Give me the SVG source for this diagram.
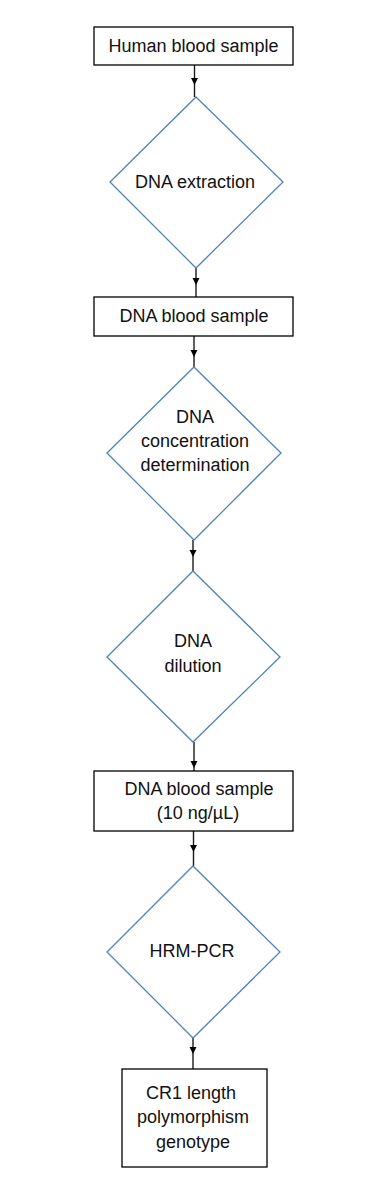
<svg xmlns="http://www.w3.org/2000/svg" width="383" height="1200" viewBox="0 0 383 1200">
<style>
.box{fill:#fff;stroke:#000;stroke-width:1.3}
.dia{fill:#fff;stroke:#4f81bd;stroke-width:1.3}
.t{font-family:"Liberation Sans",Arial,sans-serif;font-size:18px;fill:#111;text-anchor:middle}
.ln{stroke:#1a1a1a;stroke-width:1.4;fill:none}
.ah{fill:#000}
</style>
<rect width="383" height="1200" fill="#fff"/>
<g id="connectors">
<line class="ln" x1="194.5" y1="65" x2="194.5" y2="97"/><polygon class="ah" points="191,78 198,78 194.5,85"/>
<line class="ln" x1="196" y1="268" x2="196" y2="297"/><polygon class="ah" points="192.5,278 199.5,278 196,285"/>
<line class="ln" x1="194" y1="336" x2="194" y2="367"/><polygon class="ah" points="190.5,350 197.5,350 194,357"/>
<line class="ln" x1="193" y1="540" x2="193" y2="571"/><polygon class="ah" points="189.5,550 196.5,550 193,557"/>
<line class="ln" x1="194" y1="742" x2="194" y2="771"/><polygon class="ah" points="190.5,761 197.5,761 194,768"/>
<line class="ln" x1="193.5" y1="831" x2="193.5" y2="866"/><polygon class="ah" points="190,845 197,845 193.5,852"/>
<line class="ln" x1="193" y1="1038" x2="193" y2="1069"/><polygon class="ah" points="189.5,1047 196.5,1047 193,1054"/>
</g>
<g id="n1"><rect class="box" x="94" y="27" width="199" height="38"/><text class="t" x="193.5" y="52">Human blood sample</text></g>
<g id="n2"><polygon class="dia" points="196,97 283,182 196,268 110,182"/><text class="t" x="195" y="188">DNA extraction</text></g>
<g id="n3"><rect class="box" x="94" y="297" width="199" height="39"/><text class="t" x="194" y="322">DNA blood sample</text></g>
<g id="n4"><polygon class="dia" points="194,367 281,453 194,540 107,453"/><text class="t" x="195" y="423">DNA</text><text class="t" x="195" y="447">concentration</text><text class="t" x="195" y="471">determination</text></g>
<g id="n5"><polygon class="dia" points="193,571 280,657 193,742 107,657"/><text class="t" x="193" y="647">DNA</text><text class="t" x="193" y="672">dilution</text></g>
<g id="n6"><rect class="box" x="94" y="771" width="199" height="60"/><text class="t" x="199" y="795">DNA blood sample</text><text class="t" x="198" y="819">(10 ng/µL)</text></g>
<g id="n7"><polygon class="dia" points="193,866 280,952 193,1038 107,952"/><text class="t" x="192" y="957">HRM-PCR</text></g>
<g id="n8"><rect class="box" x="122" y="1069" width="145" height="98"/><text class="t" x="191" y="1099">CR1 length</text><text class="t" x="193" y="1123">polymorphism</text><text class="t" x="193" y="1148">genotype</text></g>
</svg>
